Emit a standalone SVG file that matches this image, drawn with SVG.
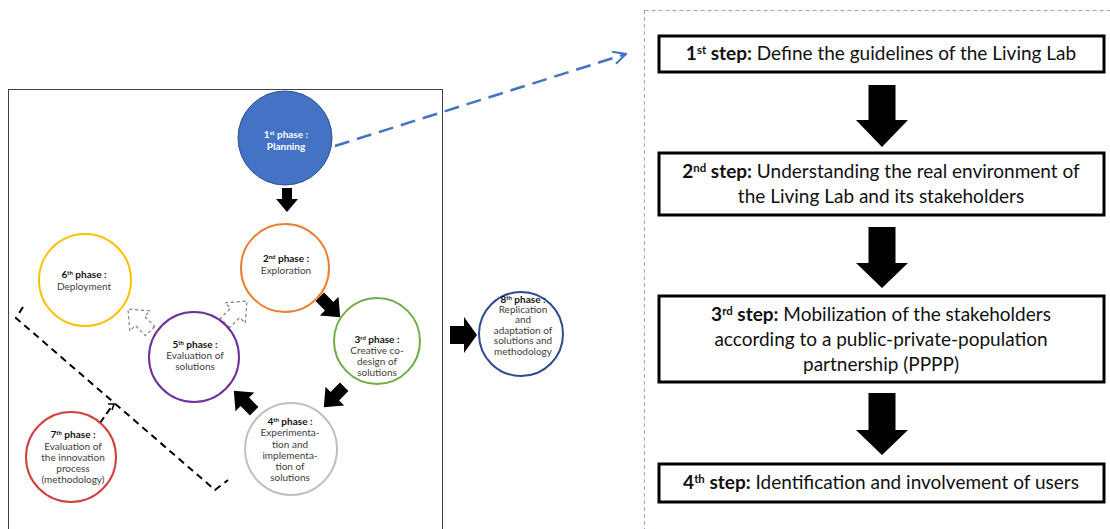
<svg xmlns="http://www.w3.org/2000/svg" width="1110" height="529" viewBox="0 0 1110 529">
<style>
.ph{font-family:Lato,"Open Sans",sans-serif;font-size:10px;fill:#404040;text-anchor:middle}
.ph .b{font-weight:bold;fill:#111}
.st{font-family:Lato,"Open Sans",sans-serif;font-size:19px;fill:#111;text-anchor:middle}
.st .b{font-weight:bold}
.sup{font-size:60%;baseline-shift:super}
.circ{fill:#fff;stroke-width:2}
.box{fill:#fff;stroke:#000;stroke-width:3}
.blk{fill:#000}
.dash{fill:#fff;stroke:#808080;stroke-width:0.9;stroke-dasharray:2.5,2}
</style>
<defs>
<path id="ba" d="M-5,-12 H5 V-1 H11 L0,12 L-11,-1 H-5 Z"/>
<marker id="openv" viewBox="0 0 12 12" refX="11" refY="6" markerWidth="6" markerHeight="6" orient="auto" markerUnits="strokeWidth">
<path d="M1,1 L11,6 L1,11" fill="none" stroke="#4472c4" stroke-width="1.6"/>
</marker>
</defs>
<rect width="1110" height="529" fill="#fff"/>
<g id="frame">
<rect x="8.5" y="89.5" width="434" height="450" fill="none" stroke="#404040" stroke-width="1"/>
<path d="M644.5,10 V529 M644.5,10.5 H1110" fill="none" stroke="#8faadc" stroke-width="1" stroke-dasharray="4,3"/>
</g>
<g id="connectors">
<line x1="335" y1="146" x2="626" y2="54" stroke="#4472c4" stroke-width="2.5" stroke-dasharray="15,8" marker-end="url(#openv)"/>
<use href="#ba" class="blk" transform="translate(287,200)"/>
<use href="#ba" class="blk" transform="translate(330,307) rotate(-45) scale(1.2)"/>
<use href="#ba" class="blk" transform="translate(334,397) rotate(45) scale(1.2)"/>
<use href="#ba" class="blk" transform="translate(244,401) rotate(135) scale(1.2)"/>
<use href="#ba" class="dash" transform="translate(139,320) rotate(135) scale(1.3)"/>
<use href="#ba" class="dash" transform="translate(236,312) rotate(-135) scale(1.3)"/>
<path class="blk" d="M450,326 H464 V317 L477,335 L464,353 V344 H450 Z"/>
<path d="M23,307 L16,318 L215,490 L228,480" fill="none" stroke="#000" stroke-width="2" stroke-dasharray="7,5"/>
<path d="M100,423 L112,406" fill="none" stroke="#000" stroke-width="2" stroke-dasharray="7,4"/>
<path d="M108,404 L114,404 L112,410" fill="none" stroke="#000" stroke-width="1.5"/>
<path d="M868.5,85 H895.5 V120 H908 L882,147 L856,120 H868.5 Z" class="blk"/>
<path d="M868.5,227 H895.5 V263 H908 L882,288 L856,263 H868.5 Z" class="blk"/>
<path d="M868.5,393 H895.5 V430 H908 L882,455 L856,430 H868.5 Z" class="blk"/>
</g>
<g id="phase1">
<circle cx="285" cy="138" r="47" fill="#4472c4" stroke="#2f528f" stroke-width="1"/>
<text class="ph" style="fill:#fff;font-weight:bold"><tspan x="286" y="138">1<tspan class="sup">st</tspan> phase :</tspan><tspan x="286" y="150">Planning</tspan></text>
</g>
<g id="phase2">
<circle class="circ" cx="285" cy="268" r="44" stroke="#ed7d31"/>
<text class="ph"><tspan class="b" x="286" y="262">2<tspan class="sup">nd</tspan> phase :</tspan><tspan x="286" y="274">Exploration</tspan></text>
</g>
<g id="phase3">
<circle class="circ" cx="377" cy="341" r="43" stroke="#70ad47"/>
<text class="ph"><tspan class="b" x="377" y="343">3<tspan class="sup">rd</tspan> phase :</tspan><tspan x="377" y="354">Creative co-</tspan><tspan x="377" y="365">design of</tspan><tspan x="377" y="376">solutions</tspan></text>
</g>
<g id="phase4">
<circle class="circ" cx="291" cy="449" r="46" stroke="#bfbfbf"/>
<text class="ph"><tspan class="b" x="290" y="425">4<tspan class="sup">th</tspan> phase :</tspan><tspan x="290" y="436">Experimenta-</tspan><tspan x="290" y="448">tion and</tspan><tspan x="290" y="459">implementa-</tspan><tspan x="290" y="470">tion of</tspan><tspan x="290" y="481">solutions</tspan></text>
</g>
<g id="phase5">
<circle class="circ" cx="194" cy="357" r="45" stroke="#7030a0"/>
<text class="ph"><tspan class="b" x="195" y="348">5<tspan class="sup">th</tspan> phase :</tspan><tspan x="195" y="359">Evaluation of</tspan><tspan x="195" y="370">solutions</tspan></text>
</g>
<g id="phase6">
<circle class="circ" cx="85" cy="280" r="46" stroke="#ffc000"/>
<text class="ph"><tspan class="b" x="84" y="278">6<tspan class="sup">th</tspan> phase :</tspan><tspan x="84" y="290">Deployment</tspan></text>
</g>
<g id="phase7">
<circle class="circ" cx="71" cy="457" r="45" stroke="#d43f3f"/>
<text class="ph"><tspan class="b" x="73" y="438">7<tspan class="sup">th</tspan> phase :</tspan><tspan x="73" y="450">Evaluation of</tspan><tspan x="73" y="461">the innovation</tspan><tspan x="73" y="472">process</tspan><tspan x="73" y="483">(methodology)</tspan></text>
</g>
<g id="phase8">
<circle class="circ" cx="521" cy="334" r="42" stroke="#2f4b8f"/>
<text class="ph"><tspan class="b" x="523" y="303">8<tspan class="sup">th</tspan> phase :</tspan><tspan x="523" y="313">Replication</tspan><tspan x="523" y="323">and</tspan><tspan x="523" y="334">adaptation of</tspan><tspan x="523" y="344">solutions and</tspan><tspan x="523" y="355">methodology</tspan></text>
</g>
<g id="step1">
<rect class="box" x="659" y="36" width="445" height="36"/>
<text class="st" x="881" y="60"><tspan class="b">1<tspan class="sup">st</tspan> step:</tspan> Define the guidelines of the Living Lab</text>
</g>
<g id="step2">
<rect class="box" x="659" y="153" width="445" height="62"/>
<text class="st"><tspan x="881" y="178"><tspan class="b">2<tspan class="sup">nd</tspan> step:</tspan> Understanding the real environment  of</tspan><tspan x="881" y="203">the Living Lab and its stakeholders</tspan></text>
</g>
<g id="step3">
<rect class="box" x="659" y="296" width="445" height="86"/>
<text class="st"><tspan x="881" y="321"><tspan class="b">3<tspan class="sup">rd</tspan> step:</tspan> Mobilization of the stakeholders</tspan><tspan x="881" y="346">according to a public-private-population</tspan><tspan x="881" y="371">partnership (PPPP)</tspan></text>
</g>
<g id="step4">
<rect class="box" x="659" y="464" width="445" height="38"/>
<text class="st" x="881" y="489"><tspan class="b">4<tspan class="sup">th</tspan> step:</tspan> Identification and involvement of users</text>
</g>
</svg>
